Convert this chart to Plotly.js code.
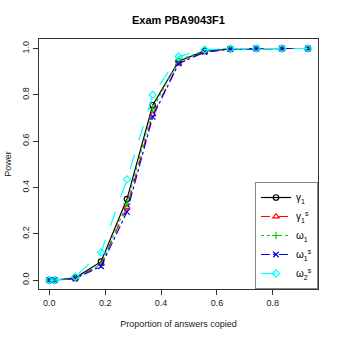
<!DOCTYPE html>
<html>
<head>
<meta charset="utf-8">
<script src="https://cdn.plot.ly/plotly-3.0.1.min.js"></script>
<style>
  body { margin: 0; background: #fff; }
  #chart { width: 339px; height: 339px; }
</style>
</head>
<body>
<div id="chart"></div>
<script>
var propCopied = [0, 0.019, 0.093, 0.185, 0.278, 0.370, 0.463, 0.556, 0.648, 0.741, 0.833, 0.926];

var gamma1  = [0, 0, 0.010, 0.080, 0.350, 0.755, 0.945, 0.990, 0.998, 1, 1, 1];
var gamma1s = [0, 0, 0.008, 0.070, 0.315, 0.715, 0.935, 0.985, 0.997, 1, 1, 1];
var omega1  = [0, 0, 0.009, 0.068, 0.330, 0.740, 0.950, 0.990, 0.998, 1, 1, 1];
var omega1s = [0, 0, 0.007, 0.060, 0.295, 0.705, 0.935, 0.985, 0.997, 1, 1, 1];
var omega2s = [0, 0, 0.015, 0.120, 0.435, 0.800, 0.965, 0.995, 0.999, 1, 1, 1];

function series(y, name, color, dash, symbol) {
    return {
        x: propCopied,
        y: y,
        mode: 'lines+markers',
        name: name,
        line: { color: color, width: 1.2, dash: dash },
        marker: { symbol: symbol, size: 5.5, color: color, line: { color: color, width: 1.2 } }
    };
}

var data = [
    series(gamma1, 'γ<sub>1</sub>', 'black', 'solid', 'circle-open'),
    series(gamma1s, 'γ<sub>1</sub><sup>s</sup>', 'red', 'dash', 'triangle-up-open'),
    series(omega1, 'ω<sub>1</sub>', '#00cd00', 'dot', 'cross-thin-open'),
    series(omega1s, 'ω<sub>1</sub><sup>s</sup>', 'blue', 'dashdot', 'x-thin-open'),
    series(omega2s, 'ω<sub>2</sub><sup>s</sup>', 'cyan', 'longdash', 'diamond-open')
];

var layout = {
    width: 339,
    height: 339,
    margin: { l: 39, r: 21, t: 39, b: 50 },
    paper_bgcolor: 'white',
    plot_bgcolor: 'white',
    font: { family: 'Liberation Sans, Arial, sans-serif', size: 9, color: '#222' },
    title: {
        text: '<b>Exam PBA9043F1</b>',
        font: { size: 11, color: 'black' },
        xref: 'paper', x: 0.5,
        yref: 'container', y: 0.94, yanchor: 'middle'
    },
    showlegend: true,
    legend: {
        x: 1, xanchor: 'right', y: 0, yanchor: 'bottom',
        bgcolor: 'white', bordercolor: '#888', borderwidth: 1,
        font: { size: 10, color: 'black' },
        tracegroupgap: 0, itemwidth: 30
    },
    xaxis: {
        range: [-0.037, 0.962],
        tickvals: [0, 0.2, 0.4, 0.6, 0.8],
        ticktext: ['0.0', '0.2', '0.4', '0.6', '0.8'],
        ticks: 'outside', ticklen: 5, tickcolor: '#333',
        showline: true, mirror: true, linecolor: '#333', linewidth: 1,
        showgrid: false, zeroline: false,
        title: { text: 'Proportion of answers copied', standoff: 13, font: { size: 9 } }
    },
    yaxis: {
        range: [-0.038, 1.041],
        tickvals: [0, 0.2, 0.4, 0.6, 0.8, 1.0],
        ticktext: ['0.0', '0.2', '0.4', '0.6', '0.8', '1.0'],
        tickangle: -90,
        ticks: 'outside', ticklen: 5, tickcolor: '#333',
        showline: true, mirror: true, linecolor: '#333', linewidth: 1,
        showgrid: false, zeroline: false,
        title: { text: 'Power', standoff: 8, font: { size: 9 } }
    }
};

Plotly.newPlot('chart', data, layout, { displayModeBar: false, staticPlot: true });
</script>
</body>
</html>
